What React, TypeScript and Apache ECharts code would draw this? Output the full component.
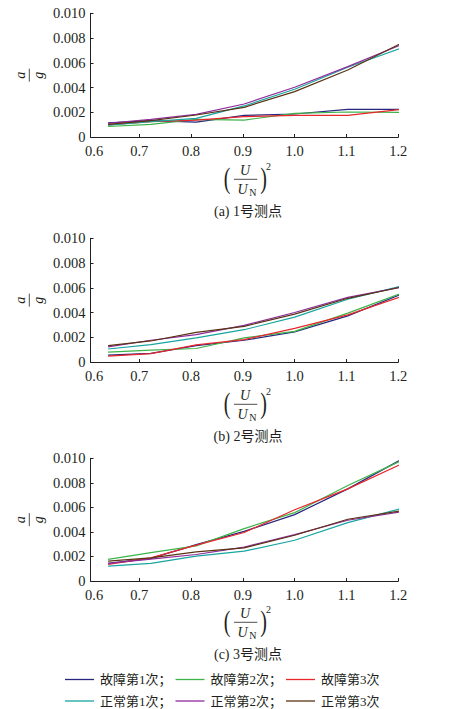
import React, { useEffect, useRef } from "react";
import * as echarts from "echarts";

// x = (U/UN)^2 sample points
const xValues = [0.64, 0.7225, 0.81, 0.9025, 1.0, 1.1025, 1.21];
const xTickValues = [0.7, 0.8, 0.9, 1.0, 1.1, 1.2];
const xLabelValues = [0.6131, 0.7, 0.8, 0.9, 1.0, 1.1, 1.2];
const xTickLabels = ["0.6", "0.7", "0.8", "0.9", "1.0", "1.1", "1.2"];
const yTickLabels = ["0", "0.002", "0.004", "0.006", "0.008", "0.010"];

const seriesNames = ["故障第1次", "故障第2次", "故障第3次", "正常第1次", "正常第2次", "正常第3次"];
const seriesColors = ["#26267e", "#3cb44a", "#e8262b", "#17a5a0", "#8e2b9b", "#5a3412"];
const panelTitles = ["(a) 1号测点", "(b) 2号测点", "(c) 3号测点"];

// Panel (a): 1号测点
const a_fault1 = [0.00115, 0.00132, 0.00121, 0.00175, 0.00186, 0.00224, 0.00224];
const a_fault2 = [0.00085, 0.00102, 0.00142, 0.00137, 0.00191, 0.00202, 0.00199];
const a_fault3 = [0.00098, 0.00124, 0.00137, 0.00164, 0.00175, 0.00175, 0.00226];
const a_normal1 = [0.00095, 0.00124, 0.00151, 0.00251, 0.00386, 0.00564, 0.00726];
const a_normal2 = [0.0011, 0.00142, 0.00183, 0.00267, 0.00402, 0.00569, 0.00753];
const a_normal3 = [0.00102, 0.00132, 0.00178, 0.0024, 0.00367, 0.00542, 0.00767];

// Panel (b): 2号测点
const b_fault1 = [0.00056, 0.00069, 0.00133, 0.00176, 0.00243, 0.00373, 0.00555];
const b_fault2 = [0.0008, 0.00096, 0.00109, 0.00195, 0.00248, 0.00395, 0.00562];
const b_fault3 = [0.00048, 0.00067, 0.00139, 0.00181, 0.00272, 0.00381, 0.00535];
const b_normal1 = [0.00105, 0.00141, 0.00195, 0.00261, 0.00363, 0.00507, 0.00619];
const b_normal2 = [0.00123, 0.00176, 0.00221, 0.00296, 0.004, 0.00523, 0.00608];
const b_normal3 = [0.00133, 0.0017, 0.0024, 0.00288, 0.00387, 0.00515, 0.0061];

// Panel (c): 3号测点
const c_fault1 = [0.00143, 0.00184, 0.00297, 0.00405, 0.00541, 0.00751, 0.01];
const c_fault2 = [0.00176, 0.00232, 0.00286, 0.00427, 0.00557, 0.00778, 0.00989];
const c_fault3 = [0.00135, 0.00189, 0.00292, 0.00395, 0.00581, 0.00751, 0.00962];
const c_normal1 = [0.00122, 0.00143, 0.00203, 0.00243, 0.00332, 0.00476, 0.00595];
const c_normal2 = [0.00143, 0.00178, 0.00216, 0.00276, 0.00378, 0.00495, 0.00568];
const c_normal3 = [0.00162, 0.00189, 0.00238, 0.0027, 0.00373, 0.00503, 0.00576];

const panels = [
  [a_fault1, a_fault2, a_fault3, a_normal1, a_normal2, a_normal3],
  [b_fault1, b_fault2, b_fault3, b_normal1, b_normal2, b_normal3],
  [c_fault1, c_fault2, c_fault3, c_normal1, c_normal2, c_normal3],
];

const SERIF = "'Liberation Serif', 'Noto Sans CJK SC', serif";
const INK = "#231f20";

const gridTops = [13.3, 238.3, 458.3];
const gridHeights = [123.7, 123.7, 122.7];
const titleOffsets = [0, 225, 443];
const GRID_LEFT = 90.5;
const GRID_WIDTH = 307.8;

function xLabelFor(v: number) {
  const k = xLabelValues.findIndex((p) => Math.abs(p - v) < 1e-6);
  return k >= 0 ? xTickLabels[k] : "";
}

function panelGraphics(i: number) {
  const dy = titleOffsets[i];
  const cy = gridTops[i] + gridHeights[i] / 2;
  const txt = (x: number, y: number, text: string, extra: any = {}, props: any = {}) => ({
    type: "text",
    x,
    y,
    silent: true,
    ...props,
    style: {
      text,
      fill: INK,
      font: `14px ${SERIF}`,
      align: "center",
      verticalAlign: "middle",
      ...extra,
    },
  });
  return [
    // y name: a / g rotated
    txt(20.5, cy, "a", { font: `italic 14px ${SERIF}` }, { rotation: Math.PI / 2 }),
    {
      type: "line",
      silent: true,
      shape: { x1: 29.3, y1: cy - 6.5, x2: 29.3, y2: cy + 6.5 },
      style: { stroke: INK, lineWidth: 0.8 },
    },
    txt(38.5, cy, "g", { font: `italic 14px ${SERIF}` }, { rotation: Math.PI / 2 }),
    // x name: (U/UN)^2
    txt(227, 178 + dy, "(", { font: `20px ${SERIF}` }, { scaleY: 1.45 }),
    txt(245, 170.7 + dy, "U", { font: `italic 14px ${SERIF}` }),
    {
      type: "line",
      silent: true,
      shape: { x1: 234, y1: 179.3 + dy, x2: 257.3, y2: 179.3 + dy },
      style: { stroke: INK, lineWidth: 0.8 },
    },
    txt(242.5, 189.3 + dy, "U", { font: `italic 14px ${SERIF}` }),
    txt(252.8, 192.3 + dy, "N", { font: `10px ${SERIF}` }),
    txt(263.5, 178 + dy, ")", { font: `20px ${SERIF}` }, { scaleY: 1.45 }),
    txt(268.5, 166.7 + dy, "2", { font: `10px ${SERIF}` }),
    txt(248, 211.7 + dy, panelTitles[i], { font: `14px ${SERIF}` }),
  ];
}

export default function App() {
  const ref = useRef<HTMLDivElement>(null);
  useEffect(() => {
    if (!ref.current) return;
    const chart = echarts.init(ref.current, undefined, { renderer: "svg" });

    const grids = [0, 1, 2].map((i) => ({
      left: GRID_LEFT,
      top: gridTops[i],
      width: GRID_WIDTH,
      height: gridHeights[i],
      containLabel: false,
    }));

    const xAxes = [0, 1, 2].map((i) => ({
      gridIndex: i,
      type: "value",
      min: 0.606,
      max: 1.2,
      axisLine: { show: true, lineStyle: { color: INK, width: 1 } },
      axisTick: { show: true, inside: true, length: 3, customValues: xTickValues, lineStyle: { color: INK, width: 1 } },
      axisLabel: {
        show: true,
        customValues: xLabelValues,
        formatter: (v: number) => xLabelFor(v),
        fontFamily: SERIF,
        fontSize: 14.5,
        color: INK,
        margin: 7,
        showMinLabel: true,
        showMaxLabel: true,
      },
      splitLine: { show: false },
    }));

    const yAxes = [0, 1, 2].map((i) => ({
      gridIndex: i,
      type: "value",
      min: 0,
      max: 0.01,
      interval: 0.002,
      axisLine: { show: true, lineStyle: { color: INK, width: 1 } },
      axisTick: { show: true, inside: true, length: 3, lineStyle: { color: INK, width: 1 } },
      axisLabel: {
        formatter: (_v: number, idx: number) => yTickLabels[idx],
        fontFamily: SERIF,
        fontSize: 14.5,
        color: INK,
        margin: 5,
      },
      splitLine: { show: false },
    }));

    const series: any[] = [];
    panels.forEach((panel, i) => {
      panel.forEach((vals, k) => {
        series.push({
          type: "line",
          name: seriesNames[k],
          xAxisIndex: i,
          yAxisIndex: i,
          data: xValues.map((x, j) => [x, vals[j]]),
          symbol: "none",
          showSymbol: false,
          clip: false,
          silent: true,
          lineStyle: { width: 1.2, color: seriesColors[k] },
          itemStyle: { color: seriesColors[k] },
        });
      });
    });

    const legendCommon = {
      left: 60,
      orient: "horizontal",
      icon: "rect",
      itemWidth: 29,
      itemHeight: 1.3,
      itemGap: 4,
      selectedMode: false,
      textStyle: { fontFamily: SERIF, fontSize: 13, color: INK, padding: [0, 0, 0, 1] },
    };

    chart.setOption({
      animation: false,
      backgroundColor: "#ffffff",
      grid: grids,
      xAxis: xAxes,
      yAxis: yAxes,
      series,
      legend: [
        {
          ...legendCommon,
          top: 668,
          data: seriesNames.slice(0, 3),
          formatter: (name: string) => (name === seriesNames[2] ? name : name + "；"),
        },
        {
          ...legendCommon,
          top: 689.5,
          data: seriesNames.slice(3, 6),
          formatter: (name: string) => (name === seriesNames[5] ? name : name + "；"),
        },
      ],
      graphic: [...panelGraphics(0), ...panelGraphics(1), ...panelGraphics(2)],
    });

    return () => chart.dispose();
  }, []);

  return (
    <div
      ref={ref}
      style={{ position: "fixed", left: 0, top: 0, width: 464, height: 709, background: "#fff" }}
    />
  );
}
